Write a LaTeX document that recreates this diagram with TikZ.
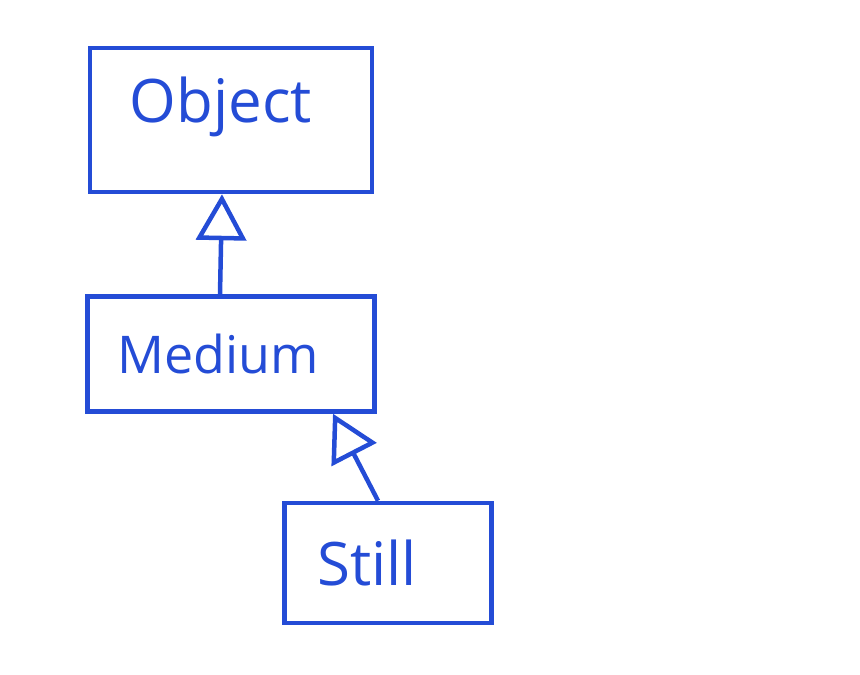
\documentclass[tikz,border=0pt]{standalone}
\usepackage{fontspec}
\setmainfont{Open Sans}
\usetikzlibrary{arrows.meta}
\definecolor{pen}{RGB}{36,76,214}
\begin{document}
\begin{tikzpicture}[x=1pt,y=-1pt,
  box/.style={draw=pen,line width=4.5pt,rectangle,inner sep=0pt,text=pen,font=\fontsize{60}{60}\selectfont},
  inh/.style={draw=pen,line width=4.5pt,-{Triangle[open,length=46pt,width=50pt,line width=4.5pt]}}]
\useasboundingbox (0,0) rectangle (860,675);
\node[box,minimum width=282pt,minimum height=144pt] (object) at (231,120) {\hspace*{-20pt}\raisebox{40pt}{Object}};
\node[box,minimum width=287pt,minimum height=115pt,font=\fontsize{52}{52}\selectfont] (medium) at (231,354) {\hspace*{-26pt}Medium};
\node[box,minimum width=207pt,minimum height=120pt] (still) at (388,563) {\hspace*{-42pt}\raisebox{-12pt}{Still}};
\draw[inh] ([xshift=-11pt]medium.north) -- ([xshift=-9pt]object.south);
\draw[inh] ([xshift=-10pt]still.north) -- ([xshift=102pt]medium.south);
\end{tikzpicture}
\end{document}
